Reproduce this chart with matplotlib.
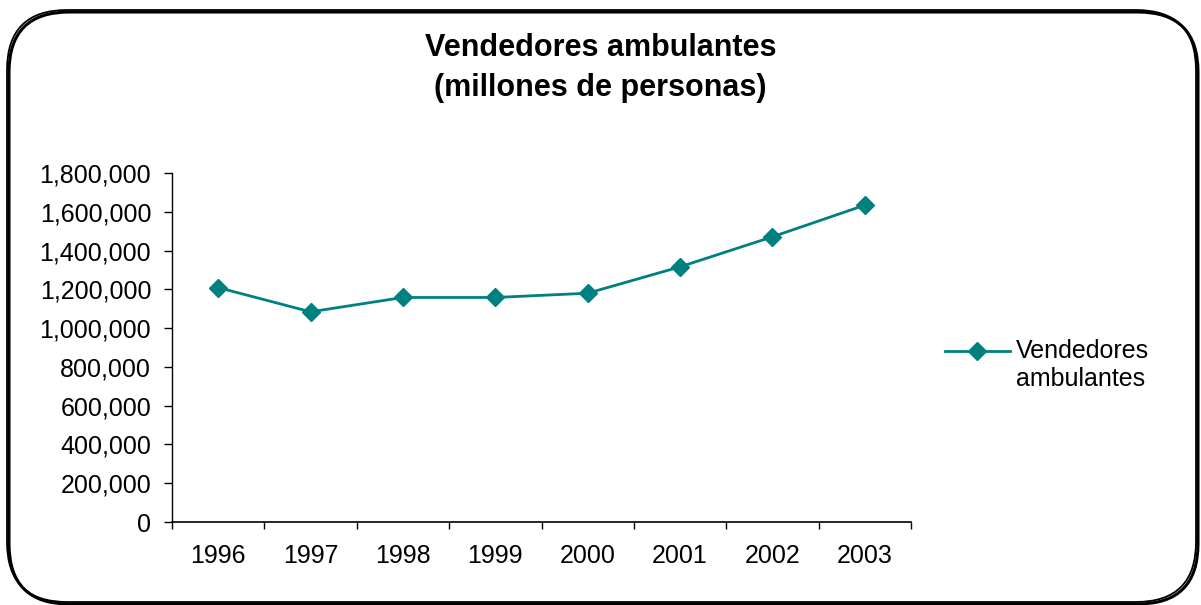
import matplotlib
matplotlib.use("Agg")
import matplotlib.pyplot as plt
from matplotlib.patches import FancyBboxPatch
from matplotlib.ticker import FuncFormatter, FixedLocator
from matplotlib.legend_handler import HandlerLine2D

years = ["1996", "1997", "1998", "1999", "2000", "2001", "2002", "2003"]
vendedores = [1209000, 1084000, 1158000, 1158000, 1180000, 1316000, 1471000, 1634000]
series_label = "Vendedores\nambulantes"
title = "Vendedores ambulantes\n(millones de personas)"

plt.rcParams['font.family'] = ['Liberation Sans', 'DejaVu Sans']
color = "#008080"
W, H = 1201, 605

fig = plt.figure(figsize=(W / 100, H / 100), dpi=100)
fig.patch.set_facecolor("white")

# rounded frame with a small shadow on the right/bottom
shadow = FancyBboxPatch((9 / W, 1 / H), 1189 / W, 592 / H,
                        boxstyle="round,pad=0,rounding_size=0.05",
                        transform=fig.transFigure, facecolor="none", edgecolor="black",
                        linewidth=2.2, mutation_aspect=W / H)
frame = FancyBboxPatch((7 / W, 3 / H), 1189 / W, 592 / H,
                       boxstyle="round,pad=0,rounding_size=0.05",
                       transform=fig.transFigure, facecolor="none", edgecolor="black",
                       linewidth=1.3, mutation_aspect=W / H)
fig.patches.extend([shadow, frame])

ax = fig.add_axes([172 / W, 1 - 522 / H, (911 - 172) / W, (522 - 173) / H])
x = list(range(len(years)))
line, = ax.plot(x, vendedores, color=color, marker="D", markersize=9, linewidth=2,
                label=series_label)

ax.set_xlim(-0.5, len(years) - 0.5)
ax.set_ylim(0, 1800000)
ax.set_yticks(range(0, 1800001, 200000))
ax.yaxis.set_major_formatter(FuncFormatter(lambda v, p: f"{int(v):,}"))
ax.set_xticks(x)
ax.set_xticklabels(years)
ax.xaxis.set_minor_locator(FixedLocator([i - 0.5 for i in range(len(years) + 1)]))
ax.tick_params(axis="x", which="major", length=0, pad=16, labelsize=18)
ax.tick_params(axis="x", which="minor", length=5, direction="out", width=1)
ax.tick_params(axis="y", length=6, direction="out", width=1, labelsize=18, pad=9)

for s in ["top", "right"]:
    ax.spines[s].set_visible(False)
ax.spines["left"].set_linewidth(1)
ax.spines["bottom"].set_linewidth(1.2)

fig.text(0.5, 1 - 68 / H, title, ha="center", va="center", fontsize=22, fontweight="bold",
         linespacing=1.45)


class UpperHandler(HandlerLine2D):
    def create_artists(self, legend, orig_handle, xdescent, ydescent, width, height,
                       fontsize, trans):
        return super().create_artists(legend, orig_handle, xdescent,
                                      ydescent - 1.2 * fontsize, width, height,
                                      fontsize, trans)


leg = fig.legend(handles=[line], loc="center left", bbox_to_anchor=(0.768, 1 - 365 / H),
                 frameon=False, fontsize=18, handlelength=2.6, handletextpad=0.25,
                 handler_map={line: UpperHandler()})

fig.savefig("out.png", dpi=100, facecolor="white")
